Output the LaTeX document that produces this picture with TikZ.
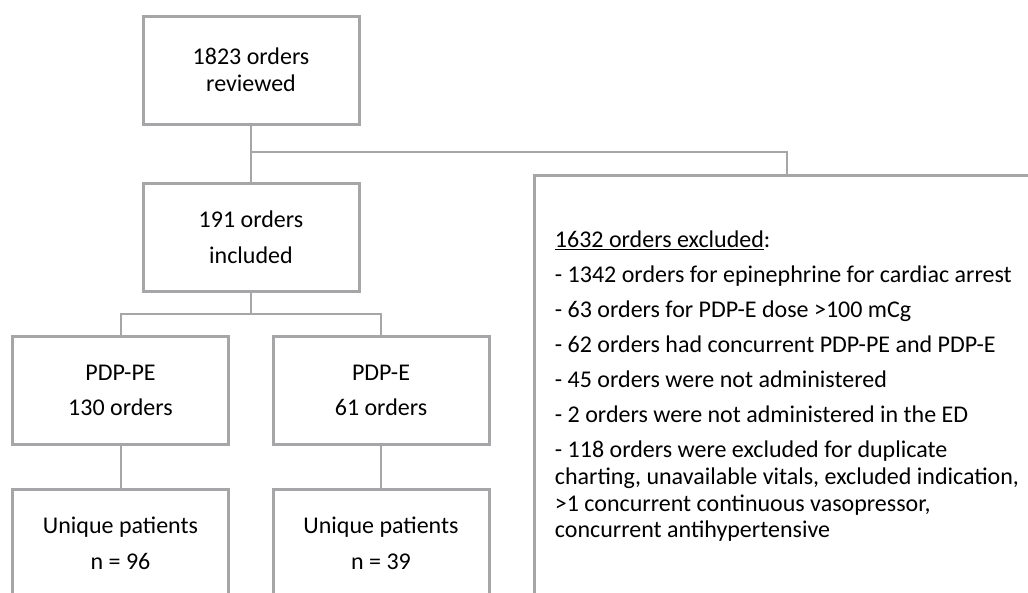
\documentclass[tikz,border=0pt]{standalone}
\usepackage{fontspec}
\setmainfont{Carlito}
\usepackage{xcolor}
\usepackage{tikz}
\usetikzlibrary{shapes,arrows,arrows.meta}
\usetikzlibrary{positioning}
\definecolor{boxgray}{RGB}{166,166,168}
\tikzstyle{block} = [rectangle, draw=boxgray, line width=3pt, fill=white,
    align=center, minimum width=216pt, minimum height=108pt, inner sep=0pt,
    font=\fontsize{24}{26.7}\selectfont]
\tikzstyle{line} = [draw=boxgray, line width=2pt]

\begin{document}
\begin{tikzpicture}[x=1pt,y=1pt]
    \clip (0,0) rectangle (1028,-592);
    % Place nodes
    \node [block] (top) at (251,-70) {1823 orders\\reviewed};
    \node [block, node distance=167.5pt, below of=top] (incl) {191 orders\\[9pt]included};
    \node [block, node distance=153pt, below of=incl, xshift=-130.5pt] (pe) {PDP-PE\\[9pt]130 orders};
    \node [block, node distance=153pt, below of=incl, xshift=130pt] (e) {PDP-E\\[9pt]61 orders};
    \node [block, node distance=153pt, below of=pe] (pepat) {Unique patients\\[9pt]n = 96};
    \node [block, node distance=153pt, below of=e] (epat) {Unique patients\\[9pt]n = 39};
    \node [block, anchor=north west, align=left, inner xsep=18pt, minimum width=505pt,
        minimum height=422pt] (excl) at (533,-174) {%
        \underline{1632 orders excluded}:\\[8.3pt]
        - 1342 orders for epinephrine for cardiac arrest\\[8.3pt]
        - 63 orders for PDP-E dose >100 mCg\\[8.3pt]
        - 62 orders had concurrent PDP-PE and PDP-E\\[8.3pt]
        - 45 orders were not administered\\[8.3pt]
        - 2 orders were not administered in the ED\\[8.3pt]
        - 118 orders were excluded for duplicate\\
        charting, unavailable vitals, excluded indication,\\
        >1 concurrent continuous vasopressor,\\
        concurrent antihypertensive};
    \coordinate [below of=top, node distance=82pt] (split);
    \coordinate [below of=incl, node distance=76.5pt] (fork);
    % Draw edges
    \path [line] (top) -- (incl);
    \path [line] (split) -| (excl);
    \path [line] (incl) -- (fork);
    \path [line] (pe) |- (fork) -| (e);
    \path [line] (pe) -- (pepat);
    \path [line] (e) -- (epat);
\end{tikzpicture}
\end{document}
